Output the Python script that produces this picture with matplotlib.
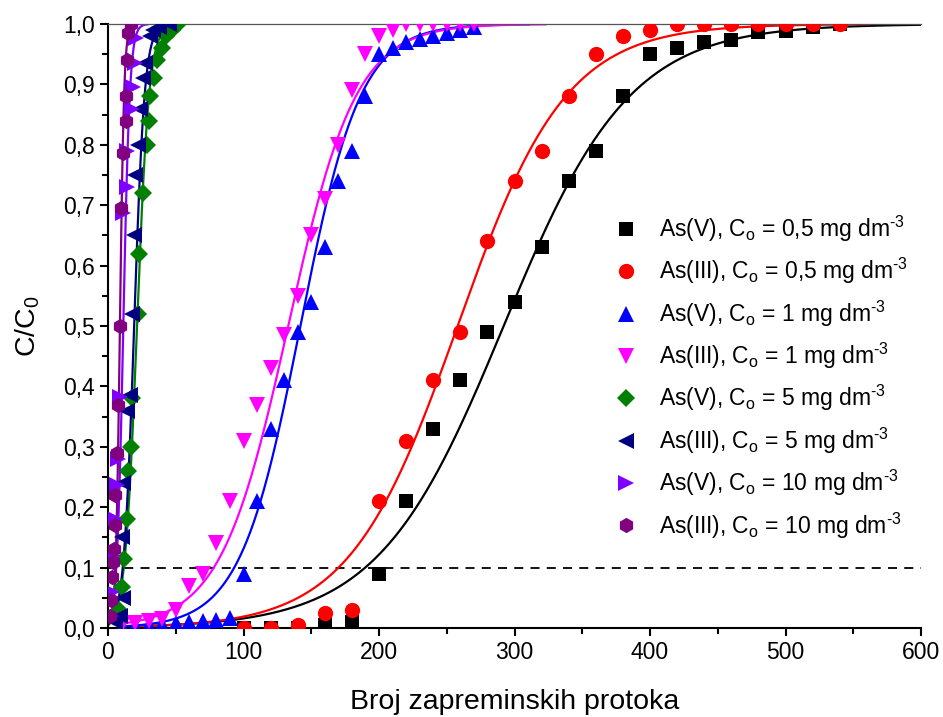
import numpy as np
import matplotlib
matplotlib.use('Agg')
import matplotlib.pyplot as plt
from matplotlib.ticker import MultipleLocator, FuncFormatter

plt.rcParams['font.family'] = ['Liberation Sans', 'DejaVu Sans']
plt.rcParams['mathtext.fontset'] = 'custom'
plt.rcParams['mathtext.rm'] = 'Liberation Sans'
plt.rcParams['mathtext.it'] = 'Liberation Sans'

# measured breakthrough points (bed volumes, C/C0)
asv_05_x = [100, 120, 140, 160, 180, 200, 220, 240, 260, 280, 300, 320, 340, 360, 380, 400, 420, 440, 460, 480, 500, 520, 540]
asv_05_y = [0.0, 0.0, 0.0, 0.005, 0.01, 0.09, 0.21, 0.33, 0.41, 0.49, 0.54, 0.63, 0.74, 0.79, 0.88, 0.95, 0.96, 0.97, 0.973, 0.986, 0.988, 0.995, 1.0]

asiii_05_x = [100, 120, 140, 160, 180, 200, 220, 240, 260, 280, 300, 320, 340, 360, 380, 400, 420, 440, 460, 480, 500, 520, 540]
asiii_05_y = [0.0, 0.0, 0.005, 0.025, 0.03, 0.21, 0.31, 0.41, 0.49, 0.64, 0.74, 0.79, 0.88, 0.95, 0.98, 0.99, 1.0, 1.0, 1.0, 1.0, 1.0, 1.0, 1.0]

asv_1_x = [10, 20, 30, 40, 50, 60, 70, 80, 90, 100, 110, 120, 130, 140, 150, 160, 170, 180, 190, 200, 210, 220, 230, 240, 250, 260, 270]
asv_1_y = [0.002, 0.004, 0.005, 0.006, 0.008, 0.01, 0.012, 0.013, 0.016, 0.09, 0.21, 0.33, 0.41, 0.49, 0.54, 0.63, 0.74, 0.79, 0.88, 0.95, 0.96, 0.97, 0.975, 0.98, 0.985, 0.99, 0.995]

asiii_1_x = [10, 20, 30, 40, 50, 60, 70, 80, 90, 100, 110, 120, 130, 140, 150, 160, 170, 180, 190, 200, 210, 220, 230, 240, 250, 260, 270]
asiii_1_y = [0.005, 0.008, 0.012, 0.015, 0.03, 0.07, 0.09, 0.14, 0.21, 0.31, 0.37, 0.43, 0.485, 0.55, 0.65, 0.71, 0.80, 0.89, 0.95, 0.98, 0.99, 1.0, 1.0, 1.0, 1.0, 1.0, 1.0]

asv_5_x = [8, 10, 12, 14, 15, 17, 18, 22, 23, 26, 29, 30, 31, 34, 36, 40, 43, 47, 52]
asv_5_y = [0.03, 0.068, 0.115, 0.18, 0.26, 0.30, 0.38, 0.52, 0.62, 0.72, 0.80, 0.84, 0.88, 0.91, 0.94, 0.96, 0.98, 0.99, 1.0]

asiii_5_x = [5, 9, 11, 10, 11, 14, 16, 17.5, 19, 20, 22, 23.5, 26, 27.5, 31, 33, 38, 45]
asiii_5_y = [0.01, 0.02, 0.05, 0.15, 0.24, 0.36, 0.385, 0.52, 0.65, 0.75, 0.80, 0.86, 0.91, 0.935, 0.98, 0.99, 0.995, 1.0]

asv_10_x = [2, 3, 4, 5, 6.4, 7.6, 8.9, 11.3, 13.8, 14, 17.5, 18.7, 20, 21]
asv_10_y = [0.02, 0.06, 0.12, 0.18, 0.236, 0.28, 0.383, 0.687, 0.73, 0.79, 0.86, 0.896, 0.935, 0.977]

asiii_10_x = [1.5, 2.5, 3, 4, 4.5, 5, 5.5, 6.5, 7.5, 9, 9.5, 11, 13, 13.5, 14, 15, 17]
asiii_10_y = [0.02, 0.046, 0.085, 0.11, 0.13, 0.17, 0.22, 0.29, 0.37, 0.50, 0.695, 0.786, 0.84, 0.88, 0.94, 0.985, 1.0]

# logistic fit parameters per series: rate constant, 50 % breakthrough, curve start
fit_k = [0.0215, 0.025, 0.045, 0.04, 0.225, 0.26, 0.42, 0.65]
fit_tau = [292, 258, 142, 133, 21.4, 19.3, 11.3, 8.8]
fit_start = [10, 10, 10, 10, 3, 3, 1.5, 1]

labels = [
    'As(V), C$\\mathregular{_o}$ = 0,5 mg dm$\\mathregular{^{\u20103}}$',
    'As(III), C$\\mathregular{_o}$ = 0,5 mg dm$\\mathregular{^{\u20103}}$',
    'As(V), C$\\mathregular{_o}$ = 1 mg dm$\\mathregular{^{\u20103}}$',
    'As(III), C$\\mathregular{_o}$ = 1 mg dm$\\mathregular{^{\u20103}}$',
    'As(V), C$\\mathregular{_o}$ = 5 mg dm$\\mathregular{^{\u20103}}$',
    'As(III), C$\\mathregular{_o}$ = 5 mg dm$\\mathregular{^{\u20103}}$',
    'As(V), C$\\mathregular{_o}$ = 10 mg dm$\\mathregular{^{\u20103}}$',
    'As(III), C$\\mathregular{_o}$ = 10 mg dm$\\mathregular{^{\u20103}}$',
]

series = [
    (asv_05_x, asv_05_y, 's', '#000000', 9.5),
    (asiii_05_x, asiii_05_y, 'o', '#ff0000', 11),
    (asv_1_x, asv_1_y, '^', '#0000ff', 11),
    (asiii_1_x, asiii_1_y, 'v', '#ff00ff', 11),
    (asv_5_x, asv_5_y, 'D', '#008000', 9),
    (asiii_5_x, asiii_5_y, '<', '#000080', 11),
    (asv_10_x, asv_10_y, '>', '#8000ff', 11),
    (asiii_10_x, asiii_10_y, 'h', '#800080', 11),
]

fig = plt.figure(figsize=(9.43, 7.17), dpi=100)
ax = fig.add_axes([108 / 943, 89 / 717, 813 / 943, 604 / 717])

for i, (xs, ys, mk, col, ms) in enumerate(series):
    ax.plot(xs, ys, linestyle='none', marker=mk, color=col, markersize=ms,
            markeredgewidth=0, label=labels[i], zorder=3)
    v = np.linspace(fit_start[i], 600, 1500)
    c = 1.0 / (1.0 + np.exp(fit_k[i] * (fit_tau[i] - v)))
    v = v[c < 0.9995]
    c = c[c < 0.9995]
    ax.plot(v, c, color=col, linewidth=1.6, zorder=2)

ax.axhline(0.1, color='black', linestyle=(0, (5, 4)), linewidth=1.3, zorder=1)

ax.set_xlim(0, 600)
ax.set_ylim(0, 1.0)
ax.xaxis.set_major_locator(MultipleLocator(100))
ax.xaxis.set_minor_locator(MultipleLocator(50))
ax.yaxis.set_major_locator(MultipleLocator(0.1))
ax.yaxis.set_minor_locator(MultipleLocator(0.05))
ax.yaxis.set_major_formatter(FuncFormatter(lambda y, p: f'{y:.1f}'.replace('.', ',')))

ax.spines['right'].set_visible(False)
ax.spines['top'].set_color('#555555')
ax.spines['top'].set_linewidth(0.9)
ax.spines['left'].set_linewidth(1.5)
ax.spines['bottom'].set_linewidth(1.5)
ax.tick_params(which='major', direction='out', length=6, width=1.5, labelsize=16.5, top=False, right=False)
ax.tick_params(which='minor', direction='out', length=4, width=1.5, top=False, right=False)

ax.set_xlabel('Broj zapreminskih protoka', fontsize=20.5, labelpad=18)
ax.set_ylabel(r'C/C$\mathregular{_0}$', fontsize=20.5, labelpad=15)

ax.legend(loc='upper left', bbox_to_anchor=(0.612, 0.697), frameon=False, fontsize=16.5,
          handlelength=1.2, handletextpad=0.85, labelspacing=0.53, borderaxespad=0,
          borderpad=0.3)

fig.savefig('out.png', dpi=100)
